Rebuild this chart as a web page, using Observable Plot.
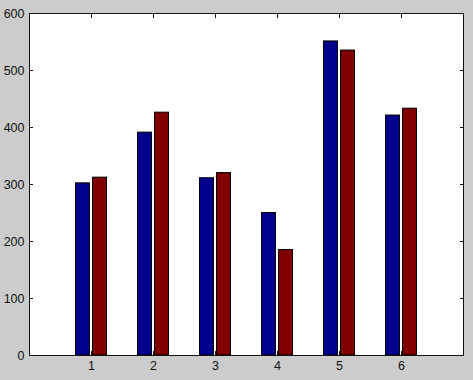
<!DOCTYPE html>
<html><head><meta charset="utf-8">
<script src="https://cdn.jsdelivr.net/npm/d3@7"></script>
<script src="https://cdn.jsdelivr.net/npm/@observablehq/plot@0.6"></script>
<style>html,body{margin:0;padding:0;background:#cccccc;overflow:hidden;}</style>
</head><body><div id="chart"></div>
<script>
const categories = [1, 2, 3, 4, 5, 6];
const series1 = [302, 391, 311, 250, 551, 421];
const series2 = [312, 426, 320, 185, 535, 433];
const xTicks = [1, 2, 3, 4, 5, 6];
const yTicks = [0, 100, 200, 300, 400, 500, 600];
const seriesColors = ["#00008c", "#800000"];

const rows = categories.flatMap((c, i) => [
  {cat: c, value: series1[i], s: 0},
  {cat: c, value: series2[i], s: 1}
]);
const barW = 0.225, gap = 0.025;

const chart = Plot.plot({
  width: 473,
  height: 380,
  marginLeft: 29,
  marginRight: 10,
  marginTop: 13,
  marginBottom: 25,
  x: {domain: [0, 7]},
  y: {domain: [0, 600]},
  color: {type: "ordinal", domain: [0, 1], range: seriesColors},
  style: {background: "#cccccc", fontFamily: "'Liberation Sans', Arial, sans-serif", fontSize: "12.5px", color: "#111"},
  marks: [
    Plot.frame({fill: "white", stroke: null}),
    Plot.rectY(rows, {
      x1: d => d.s === 0 ? d.cat - gap - barW : d.cat + gap,
      x2: d => d.s === 0 ? d.cat - gap : d.cat + gap + barW,
      y1: 0, y2: "value", fill: "s", stroke: "black", strokeWidth: 1
    }),
    Plot.frame({stroke: "#111", strokeWidth: 1}),
    Plot.axisX(xTicks, {anchor: "bottom", tickSize: 0, tickPadding: 6, label: null}),
    Plot.axisX(xTicks, {anchor: "bottom", tickSize: 4, dy: -4, text: null, label: null, stroke: "#111"}),
    Plot.axisX(xTicks, {anchor: "top", tickSize: 4, dy: 4, text: null, label: null, stroke: "#111"}),
    Plot.axisY(yTicks, {anchor: "left", tickSize: 0, tickPadding: 5, label: null}),
    Plot.axisY(yTicks, {anchor: "left", tickSize: 4, dx: 4, text: null, label: null, stroke: "#111"}),
    Plot.axisY(yTicks, {anchor: "right", tickSize: 4, dx: -4, text: null, label: null, stroke: "#111"})
  ]
});
document.getElementById("chart").appendChild(chart);
</script>
</body></html>
